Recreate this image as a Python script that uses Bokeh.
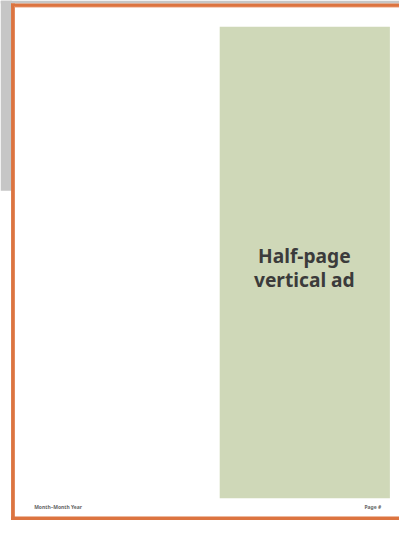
from bokeh.plotting import figure
from bokeh.models import Range1d, ColumnDataSource
from bokeh.core.properties import value
from bokeh.embed import file_html
from bokeh.resources import INLINE

# page content
ad_lines = ["Half-page", "vertical ad"]
footer_left = "Month\u2013Month Year"
footer_right = "Page #"

# layout (page pixel coordinates, 415 x 536 page)
PAGE_W, PAGE_H = 415, 536
S = 399 / PAGE_W

p = figure(width=399, height=520, x_range=Range1d(0, PAGE_W), y_range=Range1d(PAGE_H, 0),
           min_border=0, toolbar_location=None, output_backend="svg")
p.axis.visible = False
p.grid.visible = False
p.outline_line_color = None
p.background_fill_color = "white"
p.border_fill_color = "white"

grey = "#c6c6c6"
orange = "#dc7440"
green = "#cfd8b8"

# grey backdrop
p.quad(left=[0, 0], right=[PAGE_W, 12], top=[0, 0], bottom=[3, 196],
       fill_color=grey, line_color=None)
# orange frame
p.quad(left=[11, 11, 11], right=[PAGE_W, 15, PAGE_W], top=[3, 3, 532], bottom=[7, PAGE_H, PAGE_H],
       fill_color=orange, line_color=None)
# inner light edge of frame
p.quad(left=[14, 14], right=[15, PAGE_W], top=[6, 6], bottom=[532, 7],
       fill_color="#ea956a", line_color=None, fill_alpha=0.6)
# ad box
p.quad(left=[228], right=[405], top=[27], bottom=[513], fill_color=green, line_color=None)

src = ColumnDataSource(dict(x=[316, 316], y=[263, 288], t=ad_lines))
p.text(x="x", y="y", text="t", source=src, text_align="center", text_baseline="alphabetic",
       text_font=value("Noto Sans"), text_font_style="bold", text_font_size=f"{20*S:.1f}px",
       text_color="#3b3b3b")

p.text(x=[35], y=[522], text=[footer_left], text_align="left", text_baseline="alphabetic",
       text_font=value("Noto Sans"), text_font_style="bold", text_font_size=f"{5.2*S:.1f}px",
       text_color="#666666")
p.text(x=[396], y=[522], text=[footer_right], text_align="right", text_baseline="alphabetic",
       text_font=value("Noto Sans"), text_font_style="bold", text_font_size=f"{5.2*S:.1f}px",
       text_color="#666666")

open("out.html", "w").write(file_html(p, INLINE))
